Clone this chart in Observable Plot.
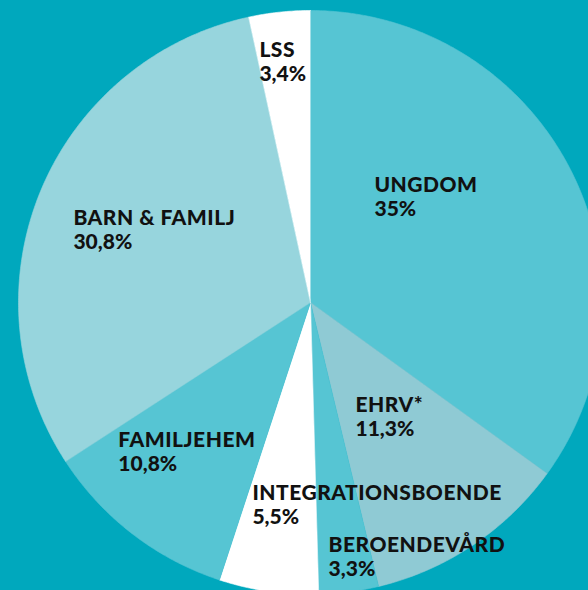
<!DOCTYPE html>
<html>
<head>
<meta charset="utf-8">
<script src="https://cdn.jsdelivr.net/npm/d3@7"></script>
<script src="https://cdn.jsdelivr.net/npm/@observablehq/plot@0.6"></script>
<style>
  html, body { margin: 0; padding: 0; background: #00a8bd; overflow: hidden; }
  #chart svg { display: block; overflow: hidden; }
</style>
</head>
<body>
<div id="chart"></div>
<script>
// Data
const categories = ["UNGDOM", "EHRV*", "BEROENDEVÅRD", "INTEGRATIONSBOENDE", "FAMILJEHEM", "BARN & FAMILJ", "LSS"];
const shares = [35, 11.3, 3.3, 5.5, 10.8, 30.8, 3.4];
const shareLabels = ["35%", "11,3%", "3,3%", "5,5%", "10,8%", "30,8%", "3,4%"];

// Styles / layout
const colors = ["#56c5d3", "#8fcad4", "#56c5d3", "#ffffff", "#56c5d3", "#97d5dd", "#ffffff"];
// label block anchor (left edge, vertical middle) in radius units relative to pie centre
const labelAnchors = [
  [0.219, 0.360], [0.154, -0.394], [0.062, -0.873], [-0.199, -0.695],
  [-0.658, -0.514], [-0.812, 0.247], [-0.175, 0.822]
];
const W = 588, H = 590, cx = 310, cy = 302, R = 292;

const total = d3.sum(shares);
const pie = d3.pie().sort(null).value(d => d)(shares.map(v => v / total));

const pts = [];
pie.forEach((p, i) => {
  const name = categories[i];
  pts.push({name, x: 0, y: 0});
  const n = Math.max(8, Math.ceil((p.endAngle - p.startAngle) * 120));
  for (let k = 0; k <= n; k++) {
    const a = p.startAngle + (p.endAngle - p.startAngle) * k / n;
    pts.push({name, x: Math.sin(a), y: Math.cos(a)});
  }
});

const labels = categories.map((c, i) => ({
  name: c, pct: shareLabels[i], x: labelAnchors[i][0], y: labelAnchors[i][1]
}));

const chart = Plot.plot({
  width: W, height: H,
  margin: 0,
  x: {domain: [-cx / R, (W - cx) / R], axis: null},
  y: {domain: [-(H - cy) / R, cy / R], axis: null},
  color: {domain: categories, range: colors},
  style: {background: "transparent"},
  marks: [
    Plot.line(pts, {x: "x", y: "y", z: "name", fill: "name", stroke: "name", strokeWidth: 0.6, curve: "linear", clip: "frame"}),
    Plot.text(labels, {x: "x", y: "y", text: "name", textAnchor: "start", dy: -12,
      fontFamily: "Lato", fontWeight: 900, fontSize: 21, fill: "#111", className: "name-label"}),
    Plot.text(labels, {x: "x", y: "y", text: "pct", textAnchor: "start", dy: 12,
      fontFamily: "Lato", fontWeight: 900, fontSize: 21, fill: "#111"})
  ]
});
chart.querySelectorAll(".name-label text").forEach(t => t.setAttribute("letter-spacing", "0.5px"));
document.getElementById("chart").appendChild(chart);
</script>
</body>
</html>
